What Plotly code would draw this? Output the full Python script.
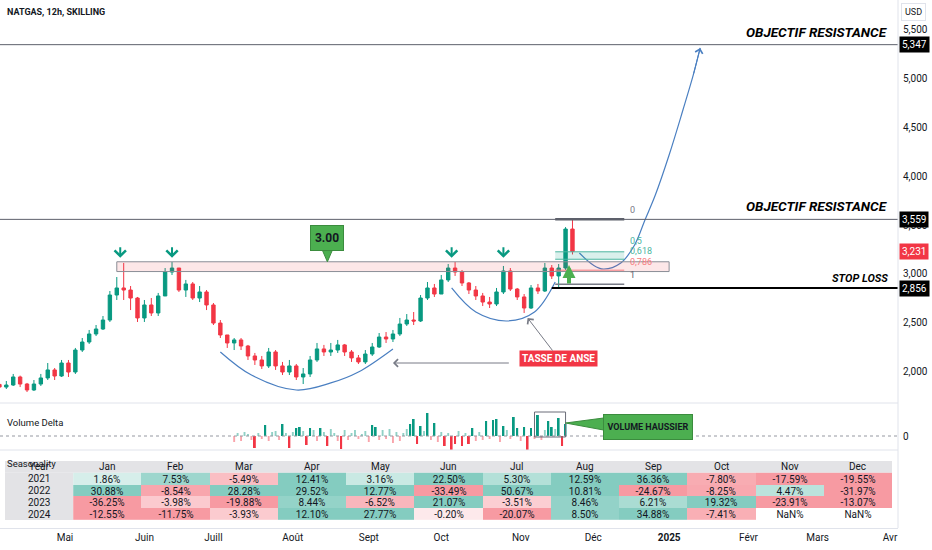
import numpy as np
import pandas as pd
import plotly.graph_objects as go

# ---- price candles: one candle per 2 trading days ----
CANDLE_START = "2024-04-04"
CANDLE_END = "2024-11-22"
FIRST_OPEN = 1870
CLOSE = [1843, 1864, 1946, 1874, 1813, 1874, 1936, 2018, 1956, 2089,
         1997, 2222, 2304, 2386, 2437, 2529, 2785, 2857, 2836, 2754,
         2550, 2683, 2601, 2775, 3020, 3061, 2836, 2898, 2754, 2816,
         2683, 2498, 2376, 2294, 2325, 2263, 2161, 2120, 2059, 2202,
         2059, 1997, 2059, 1946, 1977, 2120, 2233, 2202, 2222, 2274,
         2202, 2141, 2100, 2181, 2253, 2355, 2335, 2386, 2488, 2529,
         2519, 2754, 2857, 2795, 2939, 3061, 3020, 2908, 2836, 2775,
         2713, 2693, 2816, 3031, 2846, 2765, 2652, 2857, 2826, 3061,
         2980, 3061, 3460, 3231]
HIGH = [1885, 1905, 1977, 1960, 1885, 1915, 1977, 2089, 2038, 2120,
        2120, 2243, 2345, 2427, 2478, 2570, 2826, 2969, 3113, 2877,
        2765, 2734, 2754, 2806, 3061, 3123, 3061, 2939, 2918, 2877,
        2836, 2703, 2529, 2376, 2345, 2345, 2274, 2192, 2161, 2243,
        2222, 2100, 2120, 2079, 2038, 2161, 2294, 2274, 2294, 2325,
        2284, 2222, 2171, 2222, 2294, 2396, 2406, 2427, 2550, 2590,
        2611, 2785, 2918, 2898, 2990, 3102, 3123, 3041, 2918, 2877,
        2806, 2765, 2857, 3082, 3061, 2857, 2795, 2887, 2898, 3113,
        3092, 3102, 3480, 3559]
LOW = [1813, 1823, 1854, 1843, 1792, 1803, 1854, 1915, 1915, 1946,
       1946, 1977, 2202, 2284, 2365, 2427, 2509, 2734, 2734, 2631,
       2509, 2509, 2570, 2570, 2775, 2990, 2816, 2765, 2734, 2713,
       2631, 2478, 2345, 2243, 2222, 2222, 2120, 2069, 2028, 2038,
       2018, 1966, 1966, 1915, 1874, 1946, 2100, 2161, 2161, 2192,
       2161, 2100, 2079, 2079, 2161, 2243, 2294, 2304, 2365, 2468,
       2478, 2509, 2734, 2765, 2795, 2918, 2980, 2877, 2795, 2734,
       2672, 2652, 2672, 2795, 2826, 2734, 2601, 2642, 2795, 2816,
       2949, 2867, 3040, 3200]

# ---- volume delta, one value per trading day ----
VOL_START = "2024-07-09"
VOL_DELTA = [-6, 3, -5, 4, 2, -4, -12, 3, -3, 11,
             -5, 4, 5, -4, 12, 3, -12, 4, 8, 9,
             5, -9, 8, 6, -5, 8, 4, -10, 7, 3,
             -5, -13, 6, -4, 3, 6, -3, 2, 5, -6,
             11, 9, -4, 6, -3, 7, -7, 4, -5, 3,
             7, 12, 17, -8, 10, 5, 23, -4, 13, -6,
             4, -10, 3, -14, -8, 5, -10, 3, -8, 8,
             -5, 4, -4, 15, -3, 16, 17, -6, 10, 6,
             -3, 19, 8, -5, 9, -14, 8, -3, 21, -4,
             6, 15, 9, 7, 18, -10, 12]

# ---- levels & drawings ----
TARGETS = [5347, 3559]
STOP_LOSS = 2856
STOP_START = "2024-11-14"
LAST_PRICE = 3231
ZONE = [3025, 3125]
ZONE_DATES = ["2024-05-22", "2025-01-01"]
PEAK_DATES = ["2024-05-23", "2024-06-13", "2024-10-04", "2024-10-25"]
FIB_DATES = ["2024-11-15", "2024-12-13"]
FIB_RATIOS = ["0", "0,5", "0,618", "0,786", "1"]
FIB_PRICES = [3559, 3227, 3151, 3039, 2895]

CUP_DATES = ["2024-07-03", "2024-07-16", "2024-08-02", "2024-08-16", "2024-08-28", "2024-09-11"]
CUP_PRICE = [2202, 1966, 1813, 1885, 1997, 2233]
HANDLE_DATES = ["2024-10-04", "2024-10-15", "2024-10-28", "2024-11-07", "2024-11-15"]
HANDLE_PRICE = [2857, 2611, 2519, 2611, 2918]
PROJ_DATES = ["2024-11-26", "2024-12-02", "2024-12-05", "2024-12-12", "2024-12-18", "2024-12-23",
              "2024-12-26", "2025-01-01", "2025-01-07", "2025-01-10", "2025-01-14"]
PROJ_PRICE = [3215, 3092, 3051, 3113, 3297, 3553, 3808, 4218, 4678, 5037, 5313]

# ---- seasonality table ----
MONTHS = ["Jan", "Feb", "Mar", "Apr", "May", "Jun", "Jul", "Aug", "Sep", "Oct", "Nov", "Dec"]
YEARS = ["2021", "2022", "2023", "2024"]
S2021 = [1.86, 7.53, -5.49, 12.41, 3.16, 22.50, 5.30, 12.59, 36.36, -7.80, -17.59, -19.55]
S2022 = [30.88, -8.54, 28.28, 29.52, 12.77, -33.49, 50.67, 10.81, -24.67, -8.25, 4.47, -31.97]
S2023 = [-36.25, -3.98, -19.88, 8.44, -6.52, 21.07, -3.51, 8.46, 6.21, 19.32, -23.91, -13.07]
S2024 = [-12.55, -11.75, -3.93, 12.10, 27.77, -0.20, -20.07, 8.50, 34.88, -7.41, None, None]

TICK_DATES = ["2024-05-01", "2024-06-01", "2024-07-01", "2024-08-01", "2024-09-01", "2024-10-01",
              "2024-11-01", "2024-12-01", "2025-01-01", "2025-02-01", "2025-03-01", "2025-04-01"]
TICK_TEXT = ["Mai", "Juin", "Juill", "Août", "Sept", "Oct", "Nov", "Déc", "<b>2025</b>", "Févr", "Mars", "Avr"]

UP = "#089981"
DOWN = "#f23645"
INK = "#131722"
BLUE = "#4a7fc1"
GREEN = "#4caf50"
SEP = "#e0e3eb"
FONT = "Roboto, DejaVu Sans, sans-serif"

PLOT_W, PLOT_H = 898, 528
X_RANGE = [-18.83, 241.3]
ORIGIN = np.datetime64("2024-05-01")


def bd(d):
    # trading-day index: weekends are skipped on the time axis, as on the source chart
    return np.busday_count(ORIGIN, np.array(d, dtype="datetime64[D]")).tolist()


def py(px):
    return 1 - px / PLOT_H


candle_dates = pd.bdate_range(CANDLE_START, CANDLE_END, freq="2B").strftime("%Y-%m-%d").tolist()
OPEN = [FIRST_OPEN] + CLOSE[:-1]
vol_dates = pd.bdate_range(VOL_START, periods=len(VOL_DELTA)).strftime("%Y-%m-%d").tolist()
vol_colors = [(UP if v > 0 else DOWN) if abs(v) >= 8 else
              ("rgba(8,153,129,0.45)" if v > 0 else "rgba(242,54,69,0.45)") for v in VOL_DELTA]

fig = go.Figure()

fig.add_trace(go.Candlestick(
    x=bd(candle_dates), open=OPEN, high=HIGH, low=LOW, close=CLOSE,
    increasing=dict(line=dict(color=UP, width=1), fillcolor=UP),
    decreasing=dict(line=dict(color=DOWN, width=1), fillcolor=DOWN),
    whiskerwidth=0, hoverinfo="skip", xaxis="x", yaxis="y"))

fig.add_trace(go.Bar(x=bd(vol_dates), y=VOL_DELTA, marker_color=vol_colors,
                     marker_line_width=0, width=0.55, xaxis="x", yaxis="y2", hoverinfo="skip"))

for xs, ys in [(CUP_DATES, CUP_PRICE), (HANDLE_DATES, HANDLE_PRICE), (PROJ_DATES, PROJ_PRICE)]:
    fig.add_trace(go.Scatter(x=bd(xs), y=ys, mode="lines", hoverinfo="skip",
                             line=dict(color=BLUE, width=1.2, shape="spline", smoothing=1.0),
                             xaxis="x", yaxis="y"))

# seasonality cells
season = [S2021, S2022, S2023, S2024]
season_text = [["NaN%" if v is None else f"{v:.2f}%" for v in row] for row in season]
fig.add_trace(go.Heatmap(
    z=season, x=list(range(12)), y=list(range(4)), text=season_text, texttemplate="%{text}",
    textfont=dict(size=10, color=INK, family=FONT), zmin=-10, zmax=10, showscale=False,
    colorscale=[[0.0, "rgb(247,154,162)"], [0.499, "rgb(253,234,236)"], [0.5, "rgb(255,255,255)"],
                [0.501, "rgb(232,246,243)"], [1.0, "rgb(132,204,192)"]],
    hoverinfo="skip", xaxis="x3", yaxis="y3"))

shapes = []
for lvl in TARGETS:
    shapes.append(dict(type="line", xref="paper", x0=0, x1=1, yref="y", y0=lvl, y1=lvl,
                       line=dict(color="#5d606b", width=1)))
shapes.append(dict(type="line", xref="x", x0=bd(STOP_START), x1=X_RANGE[1], yref="y",
                   y0=STOP_LOSS, y1=STOP_LOSS, line=dict(color="black", width=2)))
shapes.append(dict(type="rect", xref="x", x0=bd(ZONE_DATES[0]), x1=bd(ZONE_DATES[1]), yref="y",
                   y0=ZONE[0], y1=ZONE[1], fillcolor="rgba(242,54,69,0.12)",
                   line=dict(color="#8a8d96", width=1)))
fx0, fx1 = bd(FIB_DATES)
shapes.append(dict(type="rect", xref="x", x0=fx0, x1=fx1, yref="y", y0=FIB_PRICES[2], y1=FIB_PRICES[1],
                   fillcolor="rgba(8,153,129,0.15)", line=dict(width=0)))
fib_colors = ["#5d606b", "#4db6a0", "#4db6a0", "#f77c80", "#787b86"]
for p, c, w in zip(FIB_PRICES, fib_colors, [2.5, 1, 1, 1, 1.5]):
    shapes.append(dict(type="line", xref="x", x0=fx0, x1=fx1, yref="y", y0=p, y1=p,
                       line=dict(color=c, width=w)))

# "3.00" callout pointer
lx = bd("2024-08-15")
shapes.append(dict(type="path", xref="x", yref="y", fillcolor=GREEN, line=dict(color="#3b8c3e", width=1),
                   path=f"M {lx - 1.4},3240 L {lx + 1.4},3240 L {lx},{ZONE[1]} Z"))

# volume pane
shapes.append(dict(type="line", xref="paper", x0=0, x1=1, yref="y2", y0=0, y1=0,
                   line=dict(color="#9598a1", width=1, dash="dot")))
shapes.append(dict(type="rect", xref="x", x0=bd("2024-11-07"), x1=bd("2024-11-20"), yref="y2",
                   y0=-1, y1=24, line=dict(color="#6a6d78", width=1)))
wx0, wx1 = bd("2024-11-20"), bd("2024-12-05")
shapes.append(dict(type="path", xref="x", yref="y2", fillcolor=GREEN, line=dict(color="#3b8c3e", width=1),
                   path=f"M {wx0},13 L {wx1},18 L {wx1},6 Z"))

# pane separators
for px in [403, 450]:
    shapes.append(dict(type="line", xref="paper", x0=0, x1=1, yref="paper", y0=py(px), y1=py(px),
                       line=dict(color=SEP, width=1)))
shapes.append(dict(type="line", xref="paper", x0=1, x1=1, yref="paper", y0=0, y1=1,
                   line=dict(color=SEP, width=1)))

# seasonality header row and year column
shapes.append(dict(type="rect", xref="x3", yref="y3", x0=-1.5, x1=11.5, y0=-1.5, y1=-0.5,
                   fillcolor="#e3e3e6", line=dict(width=0), layer="below"))
shapes.append(dict(type="rect", xref="x3", yref="y3", x0=-1.5, x1=-0.5, y0=-0.5, y1=3.5,
                   fillcolor="#e3e3e6", line=dict(width=0), layer="below"))

ann = []
ann.append(dict(xref="paper", yref="paper", x=5 / PLOT_W, y=py(12), xanchor="left", yanchor="middle",
                text="<b>NATGAS, 12h, SKILLING</b>", showarrow=False, font=dict(size=9, color=INK)))
ann.append(dict(xref="paper", yref="paper", x=914 / PLOT_W, y=py(12), xanchor="center", yanchor="middle",
                text="USD", showarrow=False, bordercolor=SEP, borderwidth=1, borderpad=3,
                font=dict(size=9, color=INK)))
for lvl in TARGETS:
    ann.append(dict(xref="paper", x=890 / PLOT_W, xanchor="right", yref="y", y=lvl, yanchor="bottom",
                    yshift=3, text="<b><i>OBJECTIF RESISTANCE</i></b>", showarrow=False,
                    font=dict(size=13.5, color="black")))
ann.append(dict(xref="paper", x=890 / PLOT_W, xanchor="right", yref="y", y=STOP_LOSS, yanchor="bottom",
                yshift=1, text="<b><i>STOP LOSS</i></b>", showarrow=False, font=dict(size=11, color="black")))
for lvl, bg in [(TARGETS[0], "black"), (TARGETS[1], "black"), (STOP_LOSS, "black"), (LAST_PRICE, DOWN)]:
    ann.append(dict(xref="paper", x=1, xanchor="left", xshift=1, yref="y", y=lvl, text=f"{lvl:,}",
                    showarrow=False, bgcolor=bg, borderpad=2, font=dict(size=10, color="white")))
for d in PEAK_DATES:
    ann.append(dict(xref="x", yref="y", x=bd(d), y=ZONE[1], text="", showarrow=True, arrowhead=4,
                    arrowsize=1.1, arrowwidth=2, arrowcolor=UP, ax=0, ay=-16, standoff=4))
ann.append(dict(xref="x", yref="y", x=lx, y=3368, text="<b>3.00</b>", showarrow=False, bgcolor=GREEN,
                bordercolor="#3b8c3e", borderwidth=1, borderpad=2, width=28, height=20,
                font=dict(size=12, color=INK)))
for r, p, c, s in zip(FIB_RATIOS, FIB_PRICES, ["#787b86", "#4db6a0", "#4db6a0", "#f77c80", "#5d606b"],
                      [2, 4, 1, 1, 2]):
    ann.append(dict(xref="x", yref="y", x=fx1, y=p, xanchor="left", yanchor="bottom", xshift=4, yshift=s,
                    text=r, showarrow=False, font=dict(size=9, color=c)))
ann.append(dict(xref="x", yref="y", x=bd("2024-11-21"), y=3092, text="", showarrow=True, arrowhead=2,
                arrowsize=0.65, arrowwidth=4, arrowcolor=GREEN, ax=0, ay=20))
ann.append(dict(xref="x", yref="y", x=bd(PROJ_DATES[-1]), y=PROJ_PRICE[-1], axref="x", ayref="y",
                ax=bd(PROJ_DATES[-2]), ay=PROJ_PRICE[-2], text="", showarrow=True, arrowhead=4,
                arrowsize=1.5, arrowwidth=1, arrowcolor=BLUE))
ann.append(dict(xref="x", yref="y", x=bd("2024-11-05"), y=2550, axref="x", ayref="y",
                ax=bd("2024-11-18"), ay=2135, text="<b>TASSE DE ANSE</b>", showarrow=True, arrowhead=4,
                arrowsize=1.5, arrowwidth=1, arrowcolor="#787b86", bgcolor=DOWN, borderpad=2,
                font=dict(size=10, color="white")))
ann.append(dict(xref="x", yref="y", x=bd("2024-09-11"), y=2089, axref="x", ayref="y",
                ax=bd("2024-10-29"), ay=2089, text="", showarrow=True, arrowhead=4,
                arrowsize=1.5, arrowwidth=1, arrowcolor="#787b86"))
ann.append(dict(xref="x", yref="y2", x=bd("2024-12-24"), y=9.5, text="<b>VOLUME HAUSSIER</b>",
                showarrow=False, bgcolor=GREEN, bordercolor="#3b8c3e", borderwidth=1, borderpad=1,
                width=86, height=22, font=dict(size=9, color=INK)))
ann.append(dict(xref="paper", yref="paper", x=5 / PLOT_W, y=py(422), xanchor="left", yanchor="middle",
                text="Volume Delta", showarrow=False, font=dict(size=9.5, color=INK)))

# seasonality header / years
ann.append(dict(xref="x3", yref="y3", x=-1, y=-1, text="Year", showarrow=False, font=dict(size=10, color=INK)))
for i, m in enumerate(MONTHS):
    ann.append(dict(xref="x3", yref="y3", x=i, y=-1, text=m, showarrow=False, font=dict(size=10, color=INK)))
for j, yr in enumerate(YEARS):
    ann.append(dict(xref="x3", yref="y3", x=-1, y=j, text=yr, showarrow=False, font=dict(size=10, color=INK)))
ann.append(dict(xref="paper", yref="paper", x=5 / PLOT_W, y=py(463), xanchor="left", yanchor="middle",
                text="Seasonality", showarrow=False, font=dict(size=9.5, color=INK)))

fig.update_layout(
    width=932, height=550,
    margin=dict(l=0, r=34, t=0, b=22),
    paper_bgcolor="white", plot_bgcolor="white",
    font=dict(family=FONT, color=INK, size=10),
    showlegend=False, hovermode=False, dragmode=False,
    shapes=shapes, annotations=ann,
    xaxis=dict(range=X_RANGE, anchor="free", position=0, showgrid=False, zeroline=False,
               showline=True, linecolor=SEP, ticks="", tickvals=bd(TICK_DATES), ticktext=TICK_TEXT,
               tickfont=dict(size=10, color=INK), rangeslider=dict(visible=False), fixedrange=True),
    yaxis=dict(domain=[py(402), 1], range=[1690, 5804], side="right", anchor="x",
               tickvals=[2000, 2500, 3000, 3500, 4000, 4500, 5000, 5500], tickformat=",d",
               showgrid=False, zeroline=False, ticks="", ticklabelstandoff=4,
               tickfont=dict(size=10, color=INK), automargin=False, fixedrange=True),
    yaxis2=dict(domain=[py(450), py(403)], range=[-14, 33], side="right", anchor="x",
                tickvals=[0], showgrid=False, zeroline=False, ticks="", ticklabelstandoff=4,
                tickfont=dict(size=10, color=INK), automargin=False, fixedrange=True),
    xaxis3=dict(domain=[5 / PLOT_W, 892 / PLOT_W], range=[-1.5, 11.5], anchor="y3", visible=False,
                fixedrange=True),
    yaxis3=dict(domain=[py(520), py(461)], range=[3.5, -1.5], anchor="x3", visible=False,
                fixedrange=True),
)

# the page's default body margin would shift the 932x550 figure; remove it
fig.write_html("out.html", config={"displayModeBar": False},
               post_script="document.body.style.margin='0';")
